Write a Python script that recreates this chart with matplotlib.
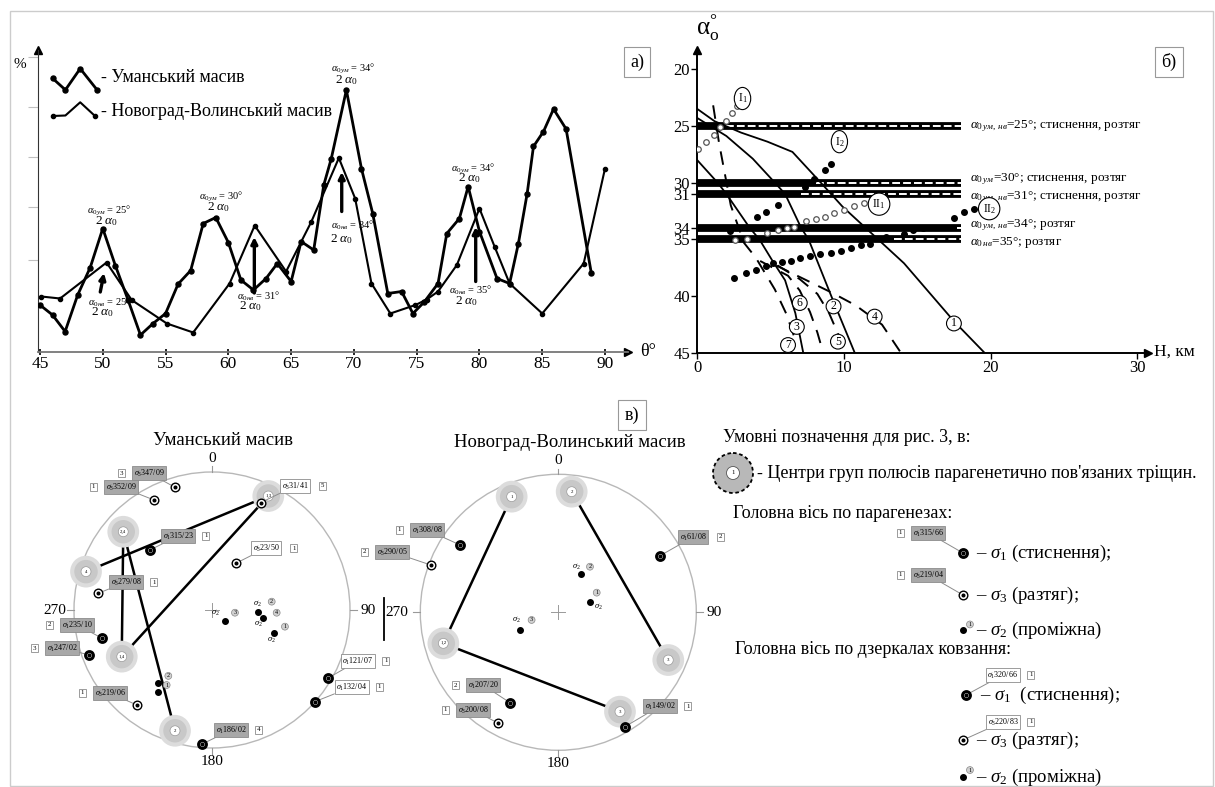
import matplotlib
matplotlib.use("Agg")
import matplotlib.pyplot as plt
from matplotlib.patches import Circle, Rectangle

plt.rcParams['font.family'] = ['Liberation Serif', 'DejaVu Serif']
plt.rcParams['mathtext.fontset'] = 'custom'
plt.rcParams['mathtext.rm'] = 'Liberation Serif'
plt.rcParams['mathtext.it'] = 'Liberation Serif:italic'
plt.rcParams['mathtext.bf'] = 'Liberation Serif:bold'

W, H = 1215, 787

# ---------------- а) distribution, %
theta_um = [45, 46, 47, 48, 49, 50, 51, 52, 53, 54, 55, 56, 57, 58, 59, 60, 61, 62,
            63, 63.9, 65, 65.8, 66.8, 67.6, 68.2, 69.4, 70.6, 71.5, 72.7, 73.8, 74.7,
            75.6, 76.7, 77.4, 78.4, 79.1, 80, 81.4, 82.4, 83.1, 83.8, 84.3, 85.1, 85.9,
            86.9, 88.9]
pct_um = [0.94, 0.74, 0.41, 1.14, 1.69, 2.47, 1.73, 1.05, 0.34, 0.57, 0.77, 1.36, 1.63,
          2.57, 2.69, 2.19, 1.44, 1.24, 1.47, 1.77, 1.41, 2.21, 2.04, 3.34, 3.87, 5.24,
          3.67, 2.77, 1.17, 1.21, 0.77, 1.0, 1.37, 2.37, 2.67, 3.31, 2.41, 1.47, 1.37,
          2.17, 3.17, 4.11, 4.41, 4.86, 4.46, 1.59]
theta_nv = [45.1, 46.6, 50.3, 52.3, 55.1, 57.2, 60.1, 62.1, 64.6, 66.6, 68.8, 70.1, 71.4,
            72.9, 74.9, 75.8, 76.7, 78.2, 80.0, 81.2, 82.4, 85.0, 88.3, 90.0]
pct_nv = [1.11, 1.07, 1.79, 1.04, 0.57, 0.39, 1.37, 2.53, 1.61, 2.6, 3.88, 3.07, 1.37,
          0.77, 0.94, 1.05, 1.21, 1.74, 2.87, 2.11, 1.37, 0.77, 1.77, 3.67]
theta_ticks = [45, 50, 55, 60, 65, 70, 75, 80, 85, 90]
pct_ticks = [1.84, 2.9, 3.9, 4.9, 5.9]

# ---------------- б) angle vs depth
depth_ticks = [0, 10, 20, 30]
alpha_ticks = [20, 25, 30, 31, 34, 35, 40, 45]
band_alpha = [25, 30, 31, 34, 35]
band_solid_to = [2.0, 8.1, 7.1, 17.7, 13.4]
band_end = 18.0
band_text = [r'$\alpha_{0\,ум,\,нв}$=25°; стиснення, розтяг',
             r'$\alpha_{0\,ум}$=30°; стиснення, розтяг',
             r'$\alpha_{0\,ум,\,нв}$=31°; стиснення, розтяг',
             r'$\alpha_{0\,ум,\,нв}$=34°; розтяг',
             r'$\alpha_{0\,нв}$=35°; розтяг']
c1_h = [0, 1.2, 3.0, 4.8, 6.5, 8.5, 9.9, 14.1, 17.5, 19.6]
c1_a = [23.5, 24.6, 25.6, 26.4, 27.3, 30.1, 32.1, 37.1, 42.2, 45]
c2_h = [0, 2.0, 3.8, 5.3, 6.0, 7.1, 7.6, 9.15, 10.75]
c2_a = [24.3, 25.9, 27.9, 30, 31, 34, 35, 40, 45]
c3_h = [0, 1.4, 2.0, 3.6, 4.25, 5.1, 6.0, 6.7, 7.24]
c3_a = [28.0, 30, 31, 34, 35, 36.8, 38.6, 41.5, 45]
d7_h = [1.1, 1.5, 2.3, 3.2, 4.0, 5.3, 6.1, 6.6]
d7_a = [23.2, 26.5, 32.0, 35.3, 36.6, 39.4, 41.6, 43.5]
d6_h = [4.3, 6.2, 7.0, 7.7, 8.2, 8.6]
d6_a = [36.9, 38.2, 39.5, 41.4, 43.2, 45]
d5_h = [5.5, 7.0, 8.2, 9.0, 9.6, 10.0]
d5_a = [37.3, 38.5, 39.8, 41.5, 43.3, 45]
d4_h = [5.4, 7.3, 9.2, 10.8, 12.6, 13.9]
d4_a = [37.3, 38.5, 39.7, 40.8, 42.5, 45]
i1_h = [0.07, 0.6, 1.17, 1.6, 2.0, 2.35, 2.7]
i1_a = [27.0, 26.4, 25.8, 25.1, 24.6, 23.9, 23.3]
i2_h = [2.25, 4.07, 4.7, 5.5, 7.36, 8.0, 8.7, 9.1]
i2_a = [34.3, 33.0, 32.6, 32.0, 30.4, 29.7, 28.9, 28.4]
ii1_h = [2.6, 3.4, 4.8, 5.5, 6.1, 6.6, 7.4, 8.1, 8.7, 9.3, 10.0, 10.7, 11.35]
ii1_a = [35.05, 35.0, 34.4, 34.2, 34.0, 33.9, 33.4, 33.2, 33.0, 32.7, 32.4, 32.1, 31.8]
ii2_h = [2.5, 3.35, 4.05, 4.7, 5.2, 5.8, 6.4, 7.0, 7.7, 8.4, 9.1, 9.8, 10.5, 11.2, 11.8,
         12.9, 14.1, 14.7, 15.4, 17.5, 18.2, 18.9]
ii2_a = [38.4, 38.0, 37.7, 37.3, 37.1, 37.0, 36.9, 36.6, 36.5, 36.3, 36.2, 36.0, 35.8,
         35.5, 35.4, 34.8, 34.5, 34.2, 34.0, 33.1, 32.6, 32.3]
curve_lbl = ['1', '2', '3', '4', '5', '6', '7']
curve_lbl_h = [17.5, 9.3, 6.8, 12.1, 9.6, 7.0, 6.2]
curve_lbl_a = [42.4, 40.9, 42.7, 41.8, 44.0, 40.6, 44.3]
dots_lbl = [r'I$_1$', r'I$_2$', r'II$_1$', r'II$_2$']
dots_lbl_h = [3.1, 9.7, 12.4, 19.9]
dots_lbl_a = [22.6, 26.4, 31.9, 32.3]

# ---------------- в) stereonets (positions in units of the net radius)
um_blob_u = [0.408, -0.643, -0.913, -0.654, -0.268]
um_blob_v = [0.826, 0.567, 0.278, -0.338, -0.875]
um_blob_lbl = ['1,3', '2,4', '4', '1,4', '2']
um_links = [(0, 2), (0, 3), (1, 3), (1, 4)]
um_kind = [3, 3, 3, 1, 3, 3, 1, 1, 3, 1, 1, 1]
um_su = [-0.268, -0.420, 0.353, -0.449, 0.172, -0.824, -0.795, -0.889, -0.546, -0.075, 0.838, 0.746]
um_sv = [0.889, 0.797, 0.778, 0.435, 0.338, 0.121, -0.205, -0.326, -0.688, -0.973, -0.495, -0.664]
um_stxt = ['347/09', '352/09', '31/41', '315/23', '23/50', '279/08', '235/10', '247/02',
           '219/06', '186/02', '121/07', '132/04']
um_snum = ['3', '1', '5', '1', '1', '1', '2', '3', '1', '4', '1', '1']
um_mirror = [False, False, True, False, True, False, False, False, False, False, True, True]
um_s2u = [0.336, 0.372, 0.094, 0.449, -0.389, -0.389]
um_s2v = [-0.012, -0.056, -0.080, -0.169, -0.531, -0.592]
um_s2num = ['2', '4', '3', '1', '2', '1']

nv_blob_u = [-0.338, 0.097, -0.833, 0.797, 0.447]
nv_blob_v = [0.838, 0.874, -0.225, -0.346, -0.720]
nv_blob_lbl = ['1', '2', '1,2', '3', '3']
nv_links = [(0, 2), (1, 3), (2, 4)]
nv_kind = [1, 3, 1, 1, 3, 1]
nv_su = [-0.712, -0.925, 0.737, -0.350, -0.435, 0.483]
nv_sv = [0.488, 0.343, 0.410, -0.655, -0.804, -0.829]
nv_stxt = ['308/08', '290/05', '61/08', '207/20', '200/08', '149/02']
nv_snum = ['1', '2', '2', '2', '1', '1']
nv_mirror = [False] * 6
nv_s2u = [0.162, 0.230, -0.278]
nv_s2v = [0.275, 0.077, -0.128]
nv_s2num = ['2', '1', '3']

# label layout (offset points)
um_box_off = [(-18.7, 10.3), (-23.8, 9.4), (24.7, 12.0), (20.2, 10.1), (21.8, 11.0), (19.9, 8.1),
              (-18.2, 9.6), (-19.7, 5.0), (-19.2, 8.6), (21.1, 10.3), (21.8, 12.5), (26.6, 10.6)]
um_s2num_off = [(9.6, 7.2), (9.6, 3.6), (7.2, 6), (7.9, 4.8), (7.2, 5.3), (6, 4.8)]
um_s2name_off = [(-1, 5.5), (-3.6, -4.5), (-7.2, 6), (-1.7, -4.5), None, None]
nv_box_off = [(-23.8, 10.8), (-27.9, 9.4), (23.8, 13.5), (-19.4, 12.7), (-18.2, 9.6), (25.2, 14.9)]
nv_s2num_off = [(6.7, 5.5), (4.8, 6.5), (8.4, 7.2)]
nv_s2name_off = [(-2.9, 5.5), (6, -3.5), (-2.4, 7.2)]
band_text_nudge = [0, -0.3, 0.25, -0.25, 0.3]


def fig_box(x0, y0, x1, y1):
    return [x0 / W, 1 - y1 / H, (x1 - x0) / W, (y1 - y0) / H]


def sigma_marker(ax, x, y, kind):
    if kind == 1:
        ax.plot(x, y, 'o', ms=5.6, mfc='white', mec='k', mew=2.2, zorder=5, clip_on=False)
    else:
        ax.plot(x, y, 'o', ms=6.2, mfc='white', mec='k', mew=1.0, zorder=5, clip_on=False)
    ax.plot(x, y, 'o', ms=1.9, color='k', zorder=6, clip_on=False)


def sigma_label(ax, x, y, kind, txt, num, off, mirror):
    fc = 'white' if mirror else '#a8a8a8'
    ax.annotate(r'$\sigma_%d$%s' % (kind, txt), xy=(x, y), xytext=off, textcoords='offset points',
                ha='center', va='center', fontsize=5.8,
                bbox=dict(boxstyle='square,pad=0.2', fc=fc, ec='#8c8c8c', lw=0.6),
                arrowprops=dict(arrowstyle='-', color='#8c8c8c', lw=0.7, shrinkA=0, shrinkB=2.5),
                zorder=4, annotation_clip=False)
    ndx = off[0] + (20 if off[0] > 0 else -20)
    ax.annotate(num, xy=(x, y), xytext=(ndx, off[1]), textcoords='offset points',
                ha='center', va='center', fontsize=5,
                bbox=dict(boxstyle='square,pad=0.25', fc='white', ec='#8c8c8c', lw=0.6),
                zorder=4, annotation_clip=False)


def small_num(ax, x, y, num, off):
    ax.annotate(num, xy=(x, y), xytext=off, textcoords='offset points', ha='center', va='center',
                fontsize=4.5, bbox=dict(boxstyle='circle,pad=0.15', fc='#d0d0d0', ec='#888', lw=0.5),
                zorder=6, annotation_clip=False)


fig = plt.figure(figsize=(W / 100, H / 100), dpi=100)
bg = fig.add_axes([0, 0, 1, 1], zorder=0)
bg.set_xlim(0, W)
bg.set_ylim(H, 0)
bg.axis('off')
bg.add_patch(Rectangle((10, 11), 1203, 775, fill=False, ec='#cccccc', lw=1))

# ================= а)
axa = fig.add_axes(fig_box(38, 50, 628, 352), zorder=2)
axa.patch.set_alpha(0)
axa.set_xlim(44.84, 91.83)
axa.set_ylim(0, 6.04)
for s in ['top', 'right']:
    axa.spines[s].set_visible(False)
axa.spines['left'].set_color('#333')
axa.spines['bottom'].set_color('#777')
axa.spines['bottom'].set_linewidth(1.3)
axa.set_xticks(theta_ticks)
axa.set_yticks(pct_ticks)
axa.set_yticklabels([])
axa.tick_params(axis='x', direction='inout', length=4, width=1.2, labelsize=12.5, pad=1)
axa.tick_params(axis='y', direction='out', length=7, color='#c0c0c0')
axa.plot(theta_um, pct_um, '-o', color='k', lw=2.0, ms=3.6, zorder=3)
axa.plot(theta_nv, pct_nv, '-o', color='k', lw=1.5, ms=3.0, zorder=3)
axa.plot(1, 0, '>', color='k', ms=6, transform=axa.transAxes, clip_on=False)
axa.plot(0, 1, '^', color='k', ms=6, transform=axa.transAxes, clip_on=False)

ann_a = [(50.5, 2.83, r'$\alpha_{0ум}$ = 25°', 7.5), (50.3, 2.62, r'2 $\alpha_0$', 9.5),
         (50.4, 0.99, r'$\alpha_{0нв}$ = 25', 7.5), (50.0, 0.79, r'2 $\alpha_0$', 9.5),
         (59.4, 3.10, r'$\alpha_{0ум}$ = 30°', 7.5), (59.2, 2.90, r'2 $\alpha_0$', 9.5),
         (62.4, 1.12, r'$\alpha_{0нв}$ = 31°', 7.5), (61.8, 0.92, r'2 $\alpha_0$', 9.5),
         (69.9, 5.66, r'$\alpha_{0ум}$ = 34°', 7.5), (69.4, 5.44, r'2 $\alpha_0$', 9.5),
         (69.9, 2.53, r'$\alpha_{0нв}$ = 34°', 7.5), (69.0, 2.26, r'2 $\alpha_0$', 9.5),
         (79.5, 3.67, r'$\alpha_{0ум}$ = 34°', 7.5), (79.2, 3.47, r'2 $\alpha_0$', 9.5),
         (79.3, 1.24, r'$\alpha_{0нв}$ = 35°', 7.5), (79.0, 1.01, r'2 $\alpha_0$', 9.5)]
for x, y, s, fs in ann_a:
    axa.text(x, y, s, ha='center', va='center', fontsize=fs, zorder=5)
arrows_a = [((49.8, 1.2), (50.1, 1.58)), ((62.07, 1.18), (62.07, 2.3)),
            ((69.03, 2.81), (69.03, 3.6)), ((79.7, 1.41), (79.7, 2.5))]
for (x0, y0), (x1, y1) in arrows_a:
    axa.annotate('', xy=(x1, y1), xytext=(x0, y0),
                 arrowprops=dict(arrowstyle='-|>', color='k', lw=2.4, mutation_scale=9,
                                 shrinkA=0, shrinkB=0), zorder=4)

bg.text(20, 64, '%', fontsize=11, ha='center', va='center')
bg.text(640, 352, 'θ°', fontsize=13, ha='left', va='center')
bg.text(637, 62, 'а)', fontsize=13, ha='center', va='center',
        bbox=dict(boxstyle='square,pad=0.35', fc='white', ec='#999', lw=0.8))
bg.plot([52.7, 65.4, 80.2, 97.1], [78.4, 89.9, 68.6, 89.9], '-o', color='k', lw=2, ms=3.6)
bg.plot([52.7, 65.4, 80.2, 95], [116, 115.5, 102.3, 116], '-', color='k', lw=1.5)
bg.plot([52.7, 95], [116, 116], 'o', color='k', ms=3)
bg.text(101, 77, '- Уманський масив', fontsize=13, va='center')
bg.text(101, 112, '- Новоград-Волинський масив', fontsize=13, va='center')

# ================= б)
axb = fig.add_axes(fig_box(697, 50, 1148, 353), zorder=2)
axb.patch.set_alpha(0)
axb.set_xlim(0, 30.72)
axb.set_ylim(45, 18.33)
for s in ['top', 'right']:
    axb.spines[s].set_visible(False)
axb.spines['left'].set_linewidth(1.4)
axb.spines['bottom'].set_linewidth(1.4)
axb.set_xticks(depth_ticks)
axb.set_yticks(alpha_ticks)
axb.tick_params(direction='out', length=4, width=1, labelsize=12, pad=1)
axb.plot(1, 0, '>', color='k', ms=6, transform=axb.transAxes, clip_on=False)
axb.plot(0, 1, '^', color='k', ms=6, transform=axb.transAxes, clip_on=False)

for a, xs, lbl, dy in zip(band_alpha, band_solid_to, band_text, band_text_nudge):
    axb.plot([0, band_end], [a, a], color='k', lw=5.6, solid_capstyle='butt', zorder=2)
    axb.plot([xs, band_end], [a, a], color='white', lw=1.4, ls=(0, (4, 1.6)), zorder=2.1)
    axb.text(18.6, a + dy, lbl, fontsize=9.5, va='center', ha='left')

for h, a in [(c1_h, c1_a), (c2_h, c2_a), (c3_h, c3_a)]:
    axb.plot(h, a, color='k', lw=1.3, zorder=3)
for h, a in [(d7_h, d7_a), (d6_h, d6_a), (d5_h, d5_a), (d4_h, d4_a)]:
    axb.plot(h, a, color='k', lw=1.4, ls=(0, (7, 5)), zorder=3)
axb.plot(i1_h, i1_a, 'o', ms=4, mfc='white', mec='#555', mew=0.9, zorder=4)
axb.plot(ii1_h, ii1_a, 'o', ms=4, mfc='white', mec='#555', mew=0.9, zorder=4)
axb.plot(i2_h, i2_a, 'o', ms=4, color='k', zorder=4)
axb.plot(ii2_h, ii2_a, 'o', ms=4, color='k', zorder=4)
for t, h, a in zip(curve_lbl, curve_lbl_h, curve_lbl_a):
    axb.text(h, a, t, fontsize=8.5, ha='center', va='center', zorder=5,
             bbox=dict(boxstyle='circle,pad=0.12', fc='white', ec='k', lw=0.8))
for t, h, a in zip(dots_lbl, dots_lbl_h, dots_lbl_a):
    axb.text(h, a, t, fontsize=8.5, ha='center', va='center', zorder=5,
             bbox=dict(boxstyle='ellipse,pad=0.08', fc='white', ec='k', lw=0.8))

bg.text(708, 28, r'$\mathrm{\alpha}^{°}_{\mathrm{o}}$', fontsize=18, ha='center', va='center')
bg.text(1154, 352, 'H, км', fontsize=12.5, ha='left', va='center')
bg.text(1169, 62, 'б)', fontsize=13, ha='center', va='center',
        bbox=dict(boxstyle='square,pad=0.35', fc='white', ec='#999', lw=0.8))


# ================= в)
def draw_net(cx, cy, R, title, blob_u, blob_v, blob_lbl, links, kind, su, sv, stxt, snum,
             mirror, box_off, s2u, s2v, s2num, s2num_off, s2name_off, w_pos, e_pos):
    ax = fig.add_axes(fig_box(cx - R, cy - R, cx + R, cy + R), zorder=2)
    ax.set_xlim(-1, 1)
    ax.set_ylim(-1, 1)
    ax.axis('off')
    ax.add_patch(Circle((0, 0), 1, fill=False, ec='#b8b8b8', lw=1, clip_on=False))
    ax.plot([-0.05, 0.05], [0, 0], color='#999', lw=0.7)
    ax.plot([0, 0], [-0.05, 0.05], color='#999', lw=0.7)
    for (x0, y0, x1, y1) in [(0, 1, 0, 1.04), (0, -1, 0, -1.04), (-1, 0, -1.05, 0), (1, 0, 1.05, 0)]:
        ax.plot([x0, x1], [y0, y1], color='#999', lw=0.8, clip_on=False)
    ax.text(0, 1.05, '0', fontsize=11, ha='center', va='bottom')
    ax.text(0, -1.05, '180', fontsize=11, ha='center', va='top')
    ax.text(w_pos, 0, '270', fontsize=11, ha='center', va='center')
    ax.text(e_pos, 0, '90', fontsize=11, ha='center', va='center')
    ax.text(0.08, 1.23, title, fontsize=13.5, ha='center', va='center')
    for i, j in links:
        ax.plot([blob_u[i], blob_u[j]], [blob_v[i], blob_v[j]], color='k', lw=1.8, zorder=2,
                solid_capstyle='round')
    for u, v, t in zip(blob_u, blob_v, blob_lbl):
        ax.add_patch(Circle((u, v), 0.115, fc='#dcdcdc', ec='none', zorder=3, clip_on=False))
        ax.add_patch(Circle((u, v), 0.085, fc='#c8c8c8', ec='none', zorder=3, clip_on=False))
        ax.add_patch(Circle((u, v), 0.036, fc='white', ec='#999', lw=0.5, zorder=3, clip_on=False))
        ax.text(u, v, t, fontsize=3.5, ha='center', va='center', zorder=3)
    for k, u, v, t, n, off, m in zip(kind, su, sv, stxt, snum, box_off, mirror):
        sigma_label(ax, u, v, k, t, n, off, m)
        sigma_marker(ax, u, v, k)
    for u, v, n, noff, nameoff in zip(s2u, s2v, s2num, s2num_off, s2name_off):
        ax.plot(u, v, 'o', ms=4, color='k', zorder=5)
        small_num(ax, u, v, n, noff)
        if nameoff is not None:
            ax.annotate(r'$\sigma_2$', xy=(u, v), xytext=nameoff, textcoords='offset points',
                        ha='center', va='center', fontsize=6, zorder=6)
    return ax


draw_net(212, 610, 138, 'Уманський масив', um_blob_u, um_blob_v, um_blob_lbl, um_links,
         um_kind, um_su, um_sv, um_stxt, um_snum, um_mirror, um_box_off,
         um_s2u, um_s2v, um_s2num, um_s2num_off, um_s2name_off, -1.14, 1.13)
draw_net(558.3, 612.3, 138, 'Новоград-Волинський масив', nv_blob_u, nv_blob_v, nv_blob_lbl,
         nv_links, nv_kind, nv_su, nv_sv, nv_stxt, nv_snum, nv_mirror, nv_box_off,
         nv_s2u, nv_s2v, nv_s2num, nv_s2num_off, nv_s2name_off, -1.17, 1.13)

bg.plot([384, 384], [598, 640], color='k', lw=1.3)
bg.text(632, 415, 'в)', fontsize=13, ha='center', va='center',
        bbox=dict(boxstyle='square,pad=0.35', fc='white', ec='#999', lw=0.8))

# legend of в)
bg.text(723, 437, 'Умовні позначення для рис. 3, в:', fontsize=13, va='center')
bg.add_patch(Circle((733, 473), 20, fc='#b8b8b8', ec='k', ls=(0, (2, 1.5)), lw=1.3))
bg.add_patch(Circle((733, 473), 6.5, fc='white', ec='#555', lw=0.6))
bg.text(733, 473, '1', fontsize=5, ha='center', va='center')
bg.text(757, 473, "- Центри груп полюсів парагенетично пов'язаних тріщин.", fontsize=13, va='center')
bg.text(733, 513, 'Головна вісь по парагенезах:', fontsize=13, va='center')
sigma_label(bg, 963, 553, 1, '315/66', '1', (-25, 14.4), False)
sigma_marker(bg, 963, 553, 1)
bg.text(976, 553, r'– $\sigma_1$ (стиснення);', fontsize=13.5, va='center')
sigma_label(bg, 963, 595, 3, '219/04', '1', (-25, 14.4), False)
sigma_marker(bg, 963, 595, 3)
bg.text(976, 595, r'– $\sigma_3$ (разтяг);', fontsize=13.5, va='center')
bg.plot(963, 630, 'o', ms=4, color='k')
small_num(bg, 963, 630, '1', (5, 4))
bg.text(976, 630, r'– $\sigma_2$ (проміжна)', fontsize=13.5, va='center')
bg.text(735, 650, 'Головна вісь по дзеркалах ковзання:', fontsize=13, va='center')
sigma_label(bg, 966, 695, 1, '320/66', '1', (26.6, 14.4), True)
sigma_marker(bg, 966, 695, 1)
bg.text(980, 695, r'– $\sigma_1$  (стиснення);', fontsize=13.5, va='center')
sigma_label(bg, 963, 740, 3, '220/83', '1', (28.8, 13), True)
sigma_marker(bg, 963, 740, 3)
bg.text(976, 740, r'– $\sigma_3$ (разтяг);', fontsize=13.5, va='center')
bg.plot(963, 777, 'o', ms=4, color='k')
small_num(bg, 963, 777, '1', (5, 5))
bg.text(976, 777, r'– $\sigma_2$ (проміжна)', fontsize=13.5, va='center')

fig.savefig('out.png', dpi=100)
